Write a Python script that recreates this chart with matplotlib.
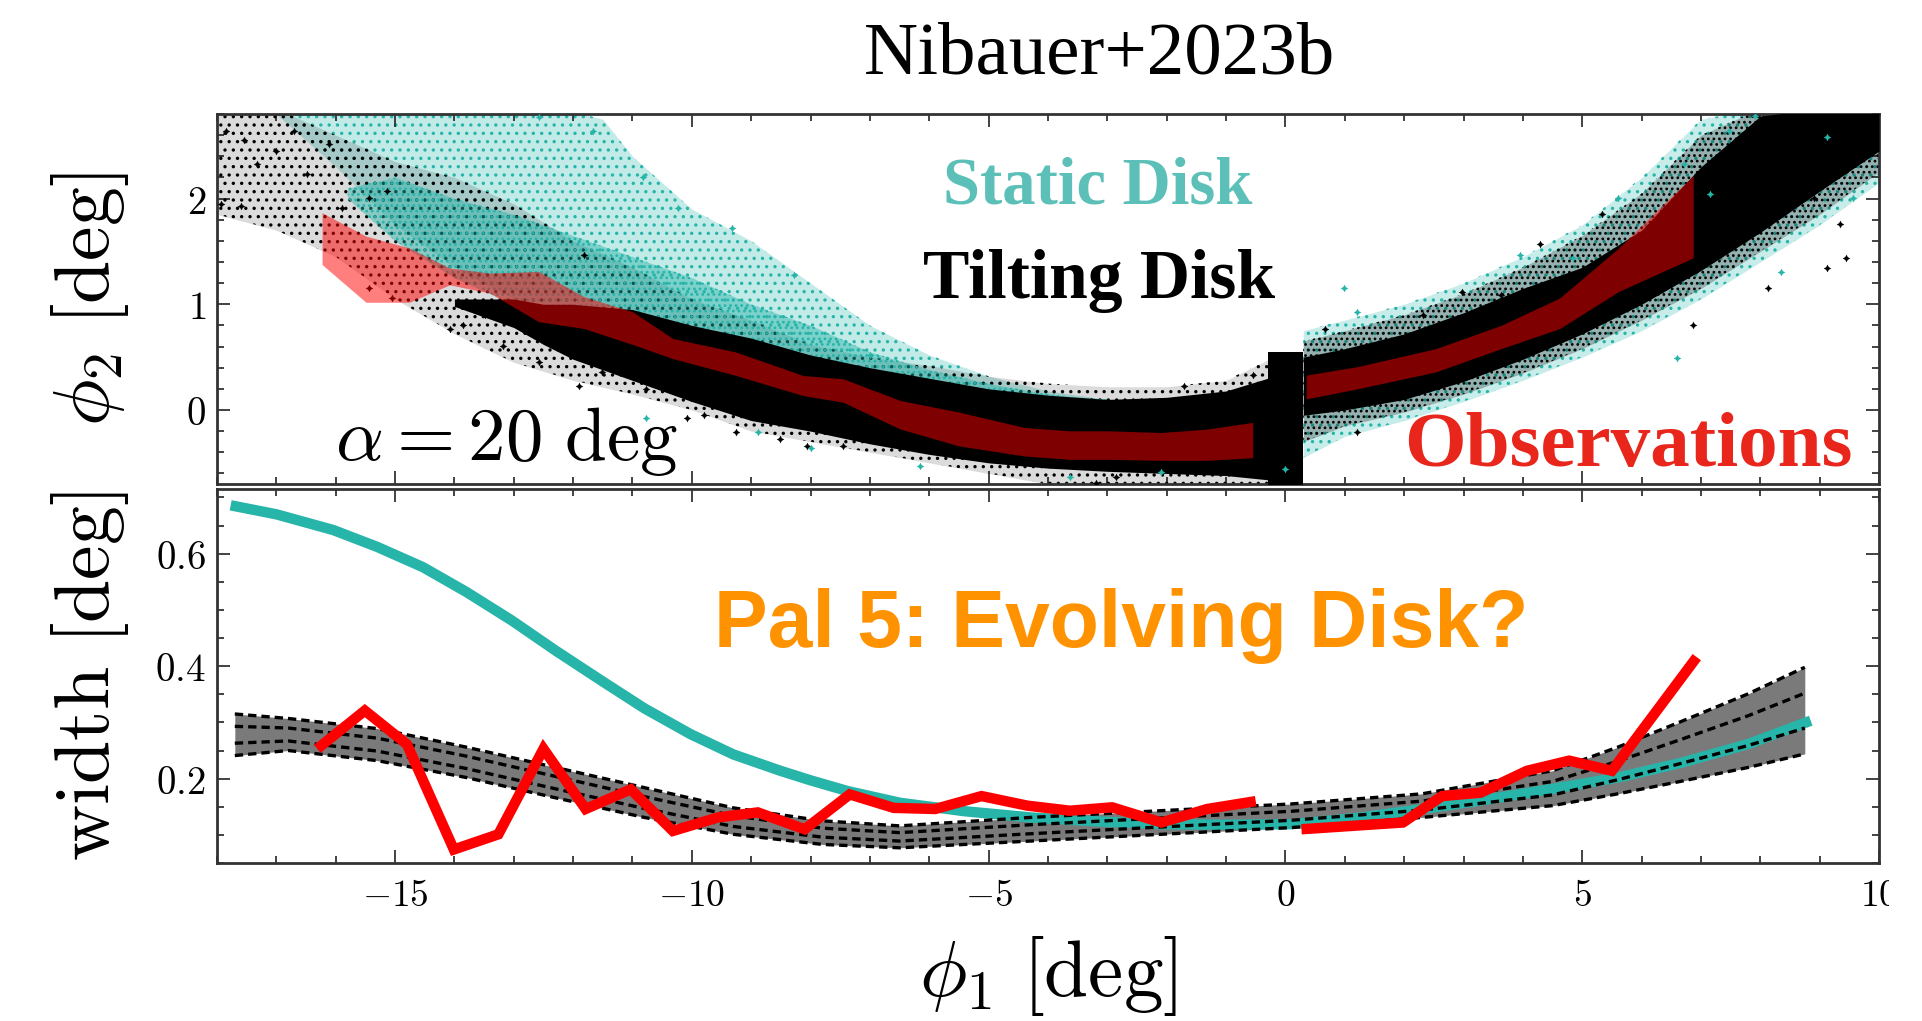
import matplotlib
matplotlib.use("Agg")
import matplotlib.pyplot as plt
from matplotlib.ticker import MultipleLocator, FuncFormatter
from matplotlib.patches import Rectangle

plt.rcParams['mathtext.fontset'] = 'cm'
plt.rcParams['font.family'] = ['DejaVu Sans']
plt.rcParams['hatch.linewidth'] = 1.2

# ---------------- top panel: stream on the sky ----------------
# left arm envelopes (phi1 -> phi2)
phi1_left = [-18, -17, -16, -15, -14, -13, -12, -11, -10, -9, -8, -7, -6, -5, -4, -3, -2, -1, -0.2]
halo_left_lo = [1.85, 1.7, 1.45, 1.05, 0.72, 0.45, 0.28, 0.15, 0.0, -0.2, -0.3, -0.4, -0.5, -0.6, -0.7, -0.72, -0.72, -0.72, -0.72]
halo_left_hi = [2.85, 2.85, 2.6, 2.35, 2.2, 1.95, 1.6, 1.35, 1.05, 0.85, 0.62, 0.5, 0.42, 0.32, 0.25, 0.22, 0.22, 0.28, 0.5]

phi1_cyan = [-17, -16.5, -16, -15, -14, -13, -12, -11.5, -11, -10, -9, -8, -7, -6, -5, -4, -3, -2, -1, -0.2]
cyan_left_lo = [2.8, 2.55, 2.3, 1.75, 1.35, 1.05, 0.85, 0.75, 0.62, 0.45, 0.3, 0.15, 0.05, -0.05, -0.1, -0.2, -0.3, -0.4, -0.5, -0.6]
cyan_left_hi = [2.82, 2.82, 2.82, 2.82, 2.82, 2.82, 2.82, 2.75, 2.4, 1.9, 1.6, 1.2, 0.8, 0.52, 0.32, 0.18, 0.1, 0.02, 0.0, 0.2]

phi1_dense = [-15.8, -15, -14, -13, -12, -11, -10, -9, -8, -7, -6, -5, -4, -3]
dense_lo = [2.0, 1.6, 1.25, 1.0, 0.85, 0.65, 0.45, 0.3, 0.15, 0.05, -0.05, -0.1, -0.2, -0.3]
dense_hi = [2.1, 2.2, 2.0, 1.85, 1.65, 1.45, 1.25, 1.0, 0.8, 0.55, 0.38, 0.25, 0.15, 0.1]

phi1_core_left = [-14, -13, -12.5, -12, -11, -10, -9, -8, -7, -6, -5, -4, -3, -2, -1, -0.3]
core_left_lo = [0.98, 0.78, 0.62, 0.48, 0.28, 0.08, -0.1, -0.2, -0.32, -0.42, -0.5, -0.55, -0.58, -0.6, -0.62, -0.66]
core_left_hi = [1.05, 1.05, 1.0, 1.0, 0.95, 0.8, 0.68, 0.52, 0.4, 0.3, 0.2, 0.14, 0.1, 0.12, 0.18, 0.3]

# progenitor
phi1_prog = [-0.3, 0.3]
prog_lo = [-0.72, -0.72]
prog_hi = [0.55, 0.55]

# right arm
phi1_right = [0.3, 1, 2, 3, 4, 5, 6, 7, 8, 9, 10]
core_right_lo = [-0.05, 0.0, 0.1, 0.27, 0.48, 0.72, 1.0, 1.32, 1.68, 2.07, 2.45]
core_right_hi = [0.5, 0.58, 0.72, 0.92, 1.15, 1.35, 1.7, 2.3, 2.78, 2.85, 2.85]
halo_right_lo = [-0.3, -0.15, -0.02, 0.15, 0.35, 0.58, 0.85, 1.15, 1.5, 1.85, 2.25]
halo_right_hi = [0.65, 0.75, 0.9, 1.1, 1.35, 1.65, 2.05, 2.6, 2.85, 2.85, 2.85]
cyan_right_lo = [-0.45, -0.25, -0.1, 0.08, 0.28, 0.5, 0.75, 1.05, 1.4, 1.75, 2.15]
cyan_right_hi = [0.75, 0.85, 1.0, 1.2, 1.45, 1.75, 2.2, 2.75, 2.85, 2.85, 2.85]

# isolated stars
black_out_phi1 = [-17.85, -17.55, -17.32, -17.93, -17.59, -17.0, -16.7, -16.49, -16.12, -15.89, -15.44, -15.14,
                  -15.44, -15.06, -14.08, -13.85, -13.48, -13.18, -12.58, -11.90, -11.82, -11.52, -10.77, -10.09,
                  -9.79, -9.26, -8.51, -8.06, -7.45, -11.82, -1.71, -0.55, 1.21, 2.97, 4.29, 5.33, 6.87, 8.13,
                  9.12, 9.45, 9.34, 8.90, 3.63, 2.31, 0.66, -2.86, -1.54, -3.19]
black_out_phi2 = [2.64, 2.55, 2.33, 1.95, 1.93, 2.45, 2.64, 2.23, 2.52, 1.91, 2.01, 2.07,
                  1.15, 1.06, 0.77, 0.80, 0.90, 0.61, 0.45, 0.23, 0.49, 0.36, 0.20, -0.08,
                  -0.05, -0.21, -0.27, -0.34, -0.34, 1.47, 0.23, 0.33, -0.21, 1.12, 1.57, 1.85, 0.80, 1.15,
                  1.34, 1.44, 1.76, 2.01, 1.09, 0.90, 0.77, -0.63, -0.59, -0.69]
cyan_out_phi1 = [-10.82, -9.33, -8.28, -10.24, -11.67, -12.58, -7.99, -8.89, -10.77, -7.0, 0.99, 1.21, 3.96,
                 4.84, 6.6, 7.47, 7.91, 8.35, 9.56, 6.71, 7.15, 5.61, 0.0, -2.09, -3.63, -6.16, 9.12]
cyan_out_phi2 = [2.20, 1.72, 1.28, 1.91, 2.64, 2.77, -0.36, -0.21, -0.08, 0.52, 1.15, 0.93, 1.47,
                 1.44, 0.49, 2.64, 2.78, 1.31, 2.01, 2.33, 2.04, 2.01, -0.56, -0.59, -0.63, -0.53, 2.58]

# observed track (red band)
obs_band_l_phi1 = [-16.23, -15.49, -14.76, -14.08, -13.40, -12.58, -11.82, -11.0, -10.32, -9.26, -8.13, -7.45,
                   -6.49, -5.5, -4.4, -3.63, -2.97, -2.09, -1.32, -0.55]
obs_band_l_hi = [1.867, 1.645, 1.533, 1.343, 1.295, 1.311, 1.073, 0.93, 0.676, 0.549, 0.327, 0.295,
                 0.09, -0.02, -0.165, -0.197, -0.197, -0.213, -0.181, -0.117]
obs_band_l_lo = [1.376, 1.019, 1.019, 1.184, 1.105, 0.835, 0.771, 0.62, 0.486, 0.327, 0.137, 0.073,
                 -0.18, -0.34, -0.435, -0.467, -0.467, -0.476, -0.476, -0.451]
obs_band_r_phi1 = [0.35, 1.21, 2.53, 3.63, 4.62, 5.61, 6.87]
obs_band_r_hi = [0.33, 0.41, 0.58, 0.80, 1.06, 1.53, 2.22]
obs_band_r_lo = [0.105, 0.20, 0.36, 0.58, 0.77, 1.12, 1.44]

# ---------------- bottom panel: stream width ----------------
phi1_model = [-17.7, -16.8, -15.3, -13.8, -12.3, -10.8, -9.3, -7.8, -6.5, -4.3, -2.1, 0.1, 2.3, 4.5, 5.6, 6.7, 7.8, 8.75]
tilt_hi = [0.315, 0.307, 0.289, 0.256, 0.22, 0.184, 0.148, 0.125, 0.116, 0.131, 0.143, 0.155, 0.173, 0.214, 0.256, 0.303, 0.351, 0.398]
tilt_mid_a = [0.293, 0.290, 0.272, 0.240, 0.204, 0.168, 0.134, 0.112, 0.104, 0.118, 0.130, 0.142, 0.160, 0.195, 0.231, 0.271, 0.312, 0.352]
tilt_mid_b = [0.263, 0.267, 0.249, 0.218, 0.182, 0.147, 0.115, 0.096, 0.089, 0.102, 0.114, 0.126, 0.144, 0.171, 0.198, 0.228, 0.259, 0.290]
tilt_lo = [0.241, 0.25, 0.232, 0.202, 0.166, 0.131, 0.101, 0.083, 0.077, 0.089, 0.101, 0.113, 0.131, 0.152, 0.173, 0.196, 0.22, 0.244]

phi1_static = [-17.77, -17.0, -16.04, -15.3, -14.53, -13.8, -13.03, -12.3, -11.52, -10.8, -10.02, -9.3, -8.51,
               -8.0, -7.38, -6.49, -5.4, -4.29, -3.2, -2.09, -1.0, 0.11, 1.2, 2.31, 3.4, 4.51, 5.61, 6.7, 7.81, 8.85]
static_w = [0.686, 0.670, 0.642, 0.612, 0.576, 0.532, 0.481, 0.428, 0.374, 0.325, 0.279, 0.243, 0.214,
            0.197, 0.178, 0.157, 0.142, 0.131, 0.124, 0.119, 0.118, 0.119, 0.130, 0.146, 0.163, 0.182, 0.202, 0.229, 0.262, 0.303]

obs_w_l_phi1 = [-16.31, -15.51, -14.80, -14.01, -13.26, -12.50, -11.79, -11.03, -10.32, -9.56, -8.89, -8.10,
                -7.34, -6.60, -5.90, -5.12, -4.35, -3.63, -2.92, -2.09, -1.32, -0.50]
obs_w_l = [0.253, 0.321, 0.261, 0.074, 0.101, 0.253, 0.146, 0.181, 0.107, 0.131, 0.140, 0.110,
           0.172, 0.148, 0.146, 0.169, 0.152, 0.143, 0.149, 0.122, 0.146, 0.160]
obs_w_r_phi1 = [0.27, 1.98, 2.64, 3.29, 4.07, 4.78, 5.50, 6.93]
obs_w_r = [0.110, 0.122, 0.169, 0.175, 0.214, 0.232, 0.214, 0.416]

xticks = [-15, -10, -5, 0, 5, 10]

teal = '#27b4a9'
W, H = 1922, 1021

fig = plt.figure(figsize=(W / 100, H / 100), dpi=100)
ax1 = fig.add_axes([217 / W, 1 - 484 / H, 1662 / W, 370 / H])
ax2 = fig.add_axes([217 / W, 1 - 863 / H, 1662 / W, 374 / H])

mathfmt = FuncFormatter(lambda v, p: r'$%g$' % v)


def style(ax):
    ax.set_xlim(-18, 10)
    ax.set_xticks(xticks)
    ax.xaxis.set_minor_locator(MultipleLocator(1))
    ax.tick_params(which='both', direction='in', top=True, right=True, width=1.2, color='#222222')
    ax.tick_params(which='major', length=9.5)
    ax.tick_params(which='minor', length=5)
    ax.tick_params(axis='y', labelsize=28, pad=8)
    ax.tick_params(axis='x', labelsize=27, pad=11)
    ax.yaxis.set_major_formatter(mathfmt)
    ax.xaxis.set_major_formatter(mathfmt)
    for s in ax.spines.values():
        s.set_linewidth(2)
        s.set_color('#333333')


def speckle(ax, x, lo, hi, color, tone, hatch, z):
    # tone underneath plus a dotted texture, mimicking a cloud of stars
    ax.fill_between(x, lo, hi, color=color, alpha=tone, lw=0, zorder=z)
    ax.fill_between(x, lo, hi, facecolor='none', edgecolor=color, hatch=hatch, lw=0, zorder=z)


# top panel
speckle(ax1, phi1_cyan, cyan_left_lo, cyan_left_hi, teal, 0.28, '..', 1)
speckle(ax1, phi1_right, cyan_right_lo, cyan_right_hi, teal, 0.25, '..', 1)
speckle(ax1, phi1_left, halo_left_lo, halo_left_hi, 'black', 0.14, '..', 2)
speckle(ax1, phi1_right, halo_right_lo, halo_right_hi, 'black', 0.25, '...', 2)
speckle(ax1, phi1_dense, dense_lo, dense_hi, teal, 0.45, '...', 3)
ax1.fill_between(phi1_core_left, core_left_lo, core_left_hi, color='black', lw=0, zorder=4)
ax1.fill_between(phi1_right, core_right_lo, core_right_hi, color='black', lw=0, zorder=4)
ax1.fill_between(phi1_prog, prog_lo, prog_hi, color='black', lw=0, zorder=4)
ax1.scatter(black_out_phi1, black_out_phi2, s=30, marker=(4, 1, 0), color='black', lw=0, zorder=5)
ax1.scatter(cyan_out_phi1, cyan_out_phi2, s=30, marker=(4, 1, 0), color=teal, lw=0, zorder=5)
ax1.fill_between(obs_band_l_phi1, obs_band_l_lo, obs_band_l_hi, color='red', alpha=0.5, lw=0, zorder=6)
ax1.fill_between(obs_band_r_phi1, obs_band_r_lo, obs_band_r_hi, color='red', alpha=0.5, lw=0, zorder=6)
style(ax1)
ax1.set_ylim(-0.7, 2.8)
ax1.yaxis.set_major_locator(MultipleLocator(1))
ax1.yaxis.set_minor_locator(MultipleLocator(0.2))
ax1.tick_params(axis='x', labelbottom=False)
ax1.set_ylabel(r'$\phi_2\ [\mathrm{deg}]$', fontsize=56)
ax1.yaxis.set_label_coords(-0.052, 0.5)

# bottom panel
ax2.fill_between(phi1_model, tilt_lo, tilt_hi, color='#7a7a7a', lw=0, zorder=1)
ax2.plot(phi1_static, static_w, color=teal, lw=7.5, solid_capstyle='butt', zorder=2)
for band in (tilt_hi, tilt_mid_a, tilt_mid_b, tilt_lo):
    ax2.plot(phi1_model, band, color='black', lw=2.4, ls=(0, (2.5, 1.5)), zorder=3)
ax2.plot(obs_w_l_phi1, obs_w_l, color='red', lw=7.5, solid_capstyle='butt', solid_joinstyle='miter', zorder=4)
ax2.plot(obs_w_r_phi1, obs_w_r, color='red', lw=7.5, solid_capstyle='butt', solid_joinstyle='miter', zorder=4)
style(ax2)
ax2.set_ylim(0.05, 0.715)
ax2.yaxis.set_major_locator(MultipleLocator(0.2))
ax2.yaxis.set_minor_locator(MultipleLocator(0.05))
ax2.set_ylabel(r'$\mathrm{width}\ [\mathrm{deg}]$', fontsize=56)
ax2.yaxis.set_label_coords(-0.052, 0.5)
ax2.set_xlabel(r'$\phi_1\ [\mathrm{deg}]$', fontsize=57, va='top')
ax2.xaxis.set_label_coords(0.5, -0.19)

# annotations
fig.text(1099 / W, 1 - 73 / H, 'Nibauer+2023b', ha='center', va='baseline', fontsize=54, family='Liberation Serif')
fig.text(1098 / W, 1 - 203 / H, 'Static Disk', ha='center', va='baseline', fontsize=48,
         family='Liberation Serif', fontweight='bold', color='#5cc0b8')
fig.text(1099 / W, 1 - 298 / H, 'Tilting Disk', ha='center', va='baseline', fontsize=50,
         family='Liberation Serif', fontweight='bold', color='black')
fig.text(335 / W, 1 - 460 / H, r'$\alpha = 20\ \mathrm{deg}$', ha='left', va='baseline', fontsize=54)
fig.text(1853 / W, 1 - 466 / H, 'Observations', ha='right', va='baseline', fontsize=57,
         family='Liberation Serif', fontweight='bold', color='#e8261c')
fig.text(714 / W, 1 - 647 / H, 'Pal 5: Evolving Disk?', ha='left', va='baseline', fontsize=58,
         family='Liberation Sans', fontweight='bold', color='#ff9200')

# the source image is cut just right of the last tick label
fig.add_artist(Rectangle((1889 / W, 0), 1 - 1889 / W, 1 - 870 / H, transform=fig.transFigure,
                         facecolor='white', edgecolor='none', zorder=10))

fig.savefig('out.png', dpi=100)
